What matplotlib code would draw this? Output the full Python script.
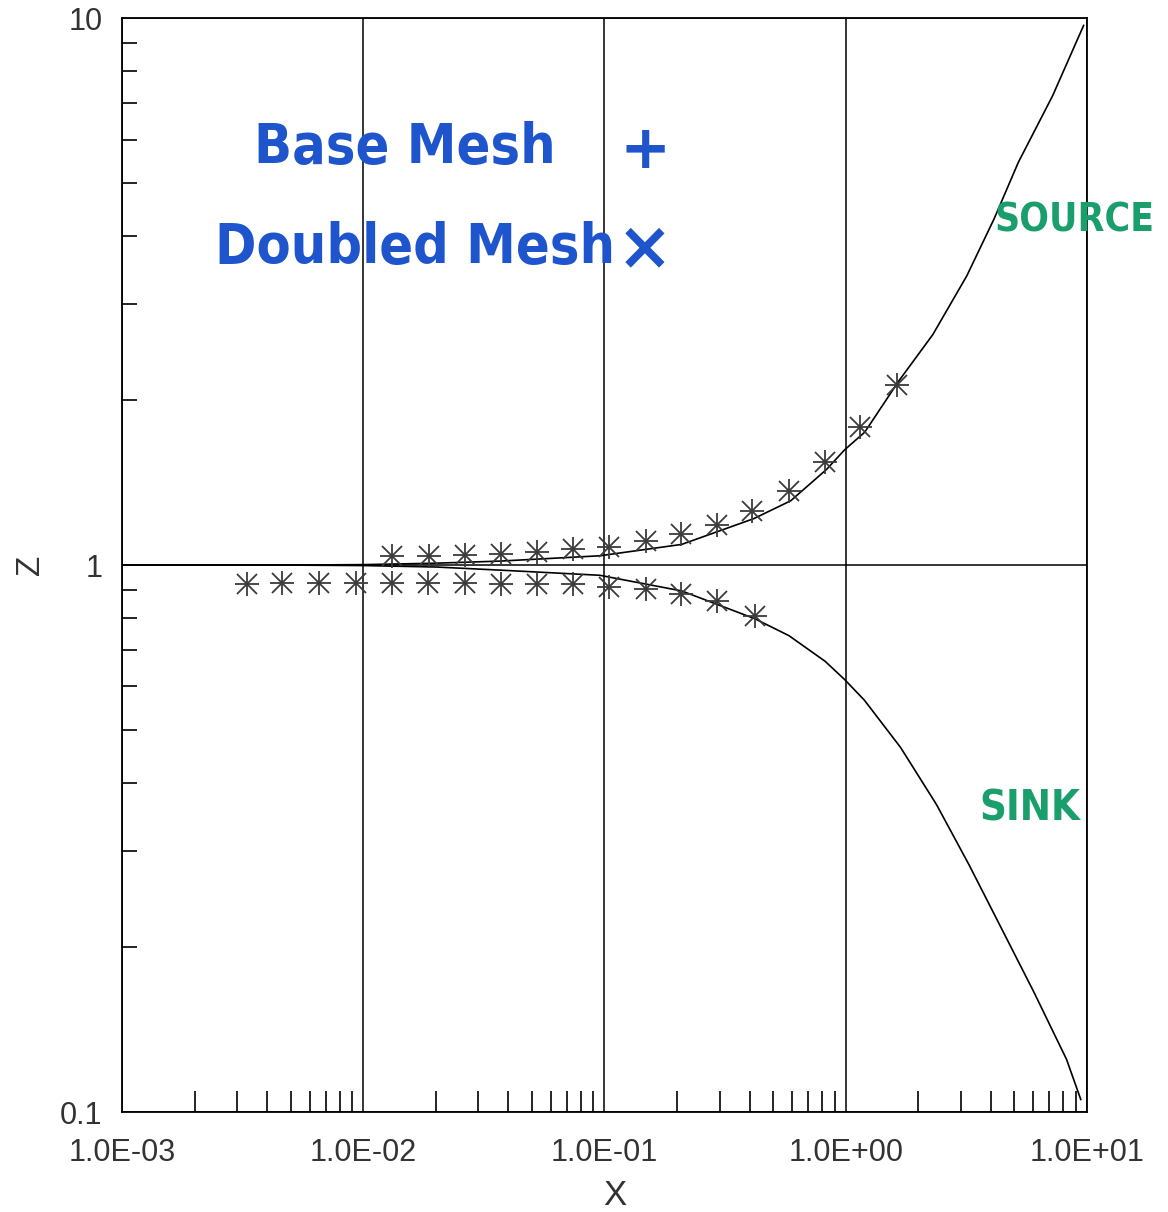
import matplotlib
matplotlib.use("Agg")
import matplotlib.pyplot as plt
from matplotlib.ticker import LogLocator, FuncFormatter, NullFormatter

# curves
source_x = [0.001, 0.005, 0.01, 0.02, 0.037, 0.0957, 0.209, 0.416, 0.592, 0.832, 0.991, 1.20, 1.66, 2.30, 3.18, 4.13, 5.20, 7.21, 9.7]
source_z = [1.0, 1.0, 1.002, 1.008, 1.017, 1.040, 1.091, 1.216, 1.311, 1.495, 1.625, 1.75, 2.17, 2.64, 3.38, 4.30, 5.45, 7.21, 9.7]
sink_x = [0.001, 0.005, 0.01, 0.02, 0.037, 0.0957, 0.209, 0.42, 0.582, 0.822, 0.993, 1.197, 1.69, 2.38, 3.25, 4.43, 6.04, 8.24, 9.44]
sink_z = [1.0, 1.0, 0.998, 0.992, 0.979, 0.958, 0.897, 0.798, 0.743, 0.667, 0.617, 0.566, 0.464, 0.365, 0.283, 0.2165, 0.1655, 0.1248, 0.1054]

# mesh points (upper = source branch, lower = sink branch)
upper_x = [0.0132, 0.0187, 0.0264, 0.0372, 0.0523, 0.0741, 0.1045, 0.148, 0.208, 0.293, 0.411, 0.583, 0.820, 1.151, 1.626]
upper_z = [1.041, 1.039, 1.042, 1.046, 1.055, 1.068, 1.081, 1.109, 1.138, 1.185, 1.254, 1.367, 1.542, 1.79, 2.13]
lower_x = [0.00329, 0.00462, 0.00655, 0.00931, 0.0132, 0.0186, 0.0264, 0.0372, 0.0524, 0.0741, 0.1045, 0.148, 0.208, 0.294, 0.420]
lower_z = [0.923, 0.926, 0.928, 0.926, 0.928, 0.926, 0.927, 0.925, 0.924, 0.922, 0.913, 0.903, 0.887, 0.858, 0.806]

plt.rcParams['font.family'] = ['Liberation Sans', 'DejaVu Sans']

fig = plt.figure(figsize=(11.68, 12.12), dpi=100)
ax = fig.add_axes([0.1045, 0.0825, 0.826, 0.9025])

ax.set_xscale("log")
ax.set_yscale("log")
ax.set_xlim(1e-3, 1e1)
ax.set_ylim(0.1, 10)

ax.plot(source_x, source_z, color="black", lw=1.2)
ax.plot(sink_x, sink_z, color="black", lw=1.2)

for xs, zs in [(upper_x, upper_z), (lower_x, lower_z)]:
    ax.plot(xs, zs, ls="none", marker="+", ms=17, mew=1.3, color="#3a3a3a")
    ax.plot(xs, zs, ls="none", marker="x", ms=14, mew=1.3, color="#3a3a3a")

# grid at decades
ax.grid(True, which="major", color="black", lw=1.1)

ax.xaxis.set_major_locator(LogLocator(base=10, numticks=10))
ax.xaxis.set_minor_locator(LogLocator(base=10, subs=range(2, 10), numticks=20))
ax.yaxis.set_minor_locator(LogLocator(base=10, subs=range(2, 10), numticks=20))
ax.xaxis.set_major_formatter(FuncFormatter(lambda v, p: "%.1E" % v))
ax.yaxis.set_major_formatter(FuncFormatter(lambda v, p: "%g" % v))
ax.xaxis.set_minor_formatter(NullFormatter())
ax.yaxis.set_minor_formatter(NullFormatter())

ax.tick_params(axis="x", which="major", length=0, pad=19, labelsize=22, labelcolor="#333333")
ax.tick_params(axis="y", which="major", length=0, pad=14, labelsize=22, labelcolor="#333333")
ax.tick_params(axis="x", which="minor", direction="in", length=15, width=1.2)
ax.tick_params(axis="y", which="minor", direction="in", length=11, width=1.2)

for s in ax.spines.values():
    s.set_linewidth(1.3)

ax.set_xlabel("X", fontsize=25, color="#333333")
ax.xaxis.set_label_coords(0.511, -0.061)
ax.set_ylabel("Z", fontsize=24, color="#333333")
ax.yaxis.set_label_coords(-0.095, 0.5)
ax.yaxis.label.set_verticalalignment("center")

# handwritten notes
blue = "#1f55cc"
green = "#1a9e6c"
fig.text(0.347, 0.878, "Base Mesh", color=blue, fontsize=40, fontweight="bold",
         family="DejaVu Sans", fontstretch="condensed", ha="center", va="center")
fig.text(0.552, 0.875, "+", color=blue, fontsize=44, fontweight="bold",
         family="DejaVu Sans", ha="center", va="center")
fig.text(0.355, 0.795, "Doubled Mesh", color=blue, fontsize=40, fontweight="bold",
         family="DejaVu Sans", fontstretch="condensed", ha="center", va="center")
fig.text(0.552, 0.794, "\u00d7", color=blue, fontsize=48, fontweight="bold",
         family="DejaVu Sans", ha="center", va="center")
fig.text(0.920, 0.818, "SOURCE", color=green, fontsize=28, fontweight="bold",
         family="DejaVu Sans", fontstretch="condensed", ha="center", va="center")
fig.text(0.882, 0.333, "SINK", color=green, fontsize=30, fontweight="bold",
         family="DejaVu Sans", fontstretch="condensed", ha="center", va="center")

fig.savefig("out.png", dpi=100)
